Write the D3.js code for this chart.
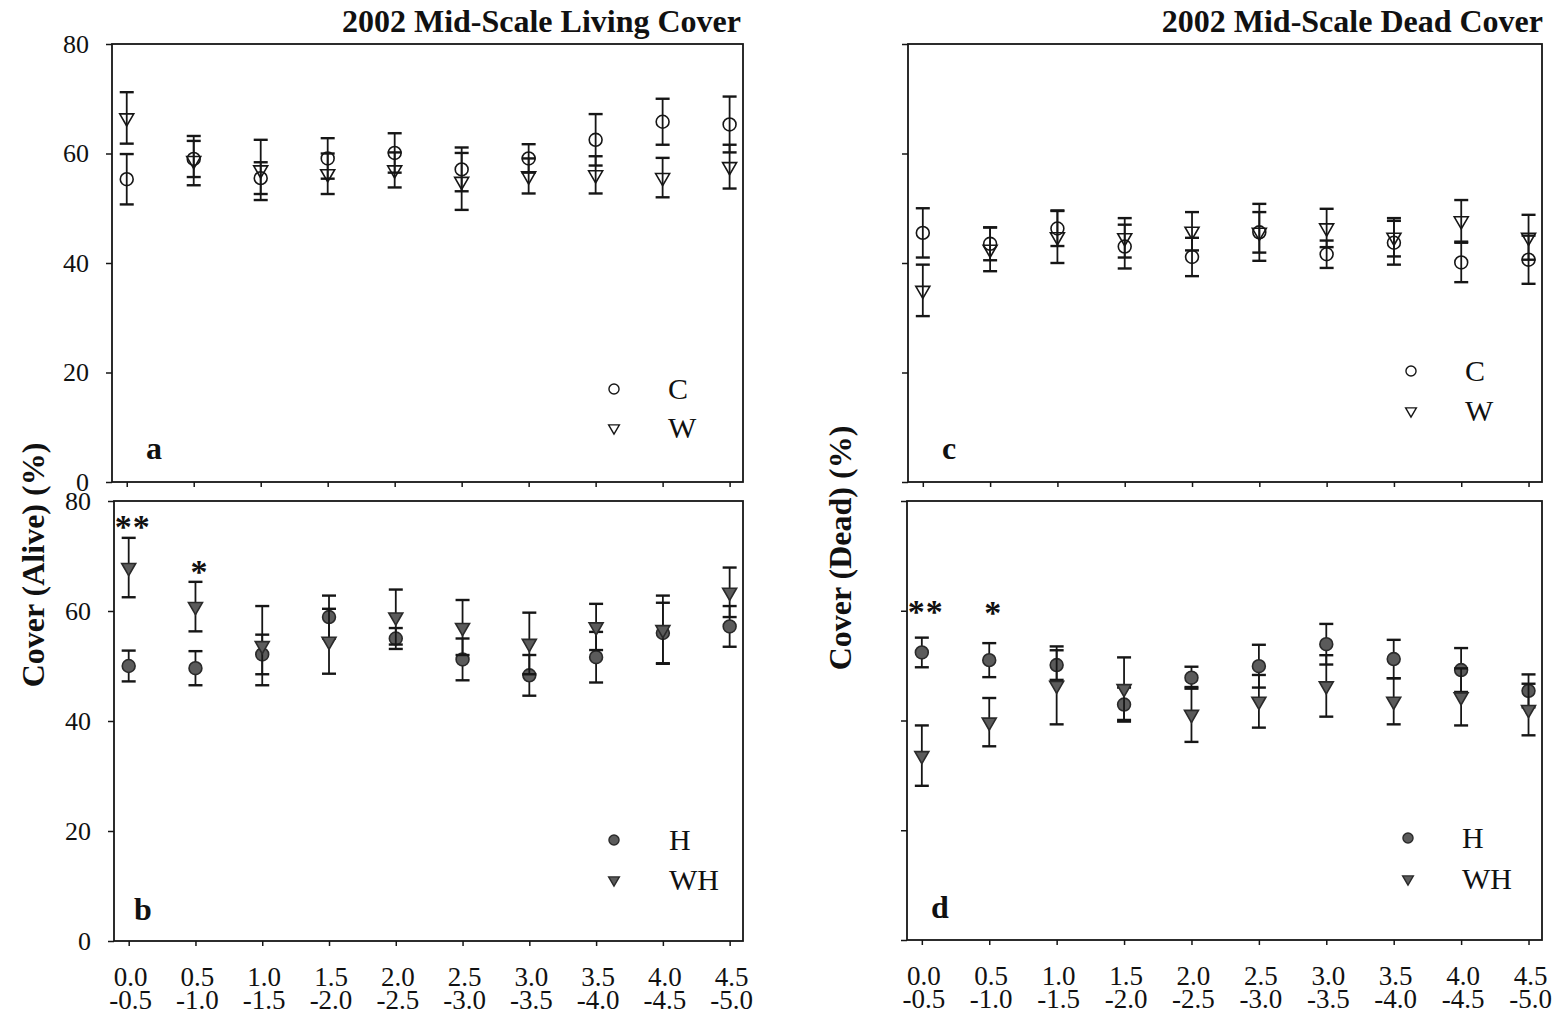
<!DOCTYPE html>
<html>
<head>
<meta charset="utf-8">
<script src="https://cdn.jsdelivr.net/npm/d3@7"></script>
<style>
  html, body { margin: 0; padding: 0; background: #fff; }
  svg { display: block; }
  text { font-family: "Liberation Serif", "Times New Roman", serif; fill: #111; }
</style>
</head>
<body>
<svg id="chart" width="1566" height="1021"></svg>
<script>
// Depth classes (m): start of each interval and the matching end
const depths = [0, 0.5, 1.0, 1.5, 2.0, 2.5, 3.0, 3.5, 4.0, 4.5];
const depthStart = ["0.0", "0.5", "1.0", "1.5", "2.0", "2.5", "3.0", "3.5", "4.0", "4.5"];
const depthEnd = ["-0.5", "-1.0", "-1.5", "-2.0", "-2.5", "-3.0", "-3.5", "-4.0", "-4.5", "-5.0"];
const yTicks = [0, 20, 40, 60, 80];

// Living cover (%) — mean and standard error
const aliveC = [55.3, 59.0, 55.5, 59.1, 60.1, 57.1, 59.1, 62.5, 65.8, 65.3];
const aliveCErr = [4.6, 3.3, 2.9, 3.7, 3.6, 4.0, 2.6, 4.7, 4.2, 5.1];
const aliveW = [66.5, 58.7, 57.0, 56.3, 57.0, 54.9, 55.9, 56.1, 55.6, 57.6];
const aliveWErr = [4.7, 4.5, 5.5, 3.7, 3.2, 5.2, 3.2, 3.4, 3.6, 4.0];
const aliveH = [50.0, 49.6, 52.1, 58.9, 55.0, 51.2, 48.3, 51.6, 56.0, 57.2];
const aliveHErr = [2.8, 3.1, 3.6, 3.9, 1.9, 3.8, 3.7, 4.6, 5.5, 3.7];
const aliveWH = [67.9, 60.8, 53.7, 54.5, 58.9, 57.0, 54.1, 57.1, 56.6, 63.4];
const aliveWHErr = [5.4, 4.5, 7.2, 5.9, 5.0, 5.0, 5.6, 4.2, 6.2, 4.5];

// Dead cover (%) — mean and standard error
const deadC = [45.5, 43.5, 46.3, 43.0, 41.1, 45.6, 41.6, 43.7, 40.1, 40.6];
const deadCErr = [4.5, 3.0, 3.2, 4.0, 3.5, 5.2, 2.5, 4.0, 3.6, 4.4];
const deadW = [35.0, 42.5, 44.8, 44.6, 45.8, 45.6, 46.4, 44.7, 47.7, 44.7];
const deadWErr = [4.7, 4.0, 4.8, 3.6, 3.5, 3.7, 3.5, 3.5, 3.8, 4.1];
const deadH = [52.4, 51.0, 50.1, 42.9, 47.8, 49.9, 53.9, 51.2, 49.2, 45.4];
const deadHErr = [2.7, 3.1, 2.7, 3.1, 2.0, 3.9, 3.7, 3.5, 4.0, 3.0];
const deadWH = [33.6, 39.7, 46.4, 45.8, 41.1, 43.5, 46.3, 43.5, 44.3, 42.0];
const deadWHErr = [5.5, 4.4, 7.1, 5.7, 5.0, 4.8, 5.6, 4.2, 5.2, 4.7];

// Significance marks (H vs WH) and the cover level they are written at
const sigAlive = ["**", "*", "", "", "", "", "", "", "", ""];
const sigAliveAt = [76.3, 68.2, 0, 0, 0, 0, 0, 0, 0, 0];
const sigDead = ["**", "*", "", "", "", "", "", "", "", ""];
const sigDeadAt = [60.8, 60.6, 0, 0, 0, 0, 0, 0, 0, 0];

const svg = d3.select("#chart");
svg.append("rect").attr("width", 1566).attr("height", 1021).attr("fill", "#fff");

const INK = "#161616";
const FILL = "#5b5b5b";

const panels = [
  { letter: "a", x0: 112, x1: 743, y0: 44, y1: 482, yLabels: true, xLabels: false,
    series: [
      { name: "C", mean: aliveC, err: aliveCErr, shape: "circle", filled: false },
      { name: "W", mean: aliveW, err: aliveWErr, shape: "triangle", filled: false }],
    legend: { mx: 614, tx: 668, y: 389, gap: 39 }, letterPos: [146, 459] },
  { letter: "b", x0: 114, x1: 743, y0: 501, y1: 941, yLabels: true, xLabels: true,
    series: [
      { name: "H", mean: aliveH, err: aliveHErr, shape: "circle", filled: true },
      { name: "WH", mean: aliveWH, err: aliveWHErr, shape: "triangle", filled: true }],
    sig: sigAlive, sigAt: sigAliveAt,
    legend: { mx: 614, tx: 669, y: 840, gap: 40 }, letterPos: [134, 920] },
  { letter: "c", x0: 908, x1: 1542, y0: 44, y1: 482, yLabels: false, xLabels: false,
    series: [
      { name: "C", mean: deadC, err: deadCErr, shape: "circle", filled: false },
      { name: "W", mean: deadW, err: deadWErr, shape: "triangle", filled: false }],
    legend: { mx: 1411, tx: 1465, y: 371, gap: 40 }, letterPos: [942, 459] },
  { letter: "d", x0: 907, x1: 1542, y0: 501, y1: 940, yLabels: false, xLabels: true,
    series: [
      { name: "H", mean: deadH, err: deadHErr, shape: "circle", filled: true },
      { name: "WH", mean: deadWH, err: deadWHErr, shape: "triangle", filled: true }],
    sig: sigDead, sigAt: sigDeadAt,
    legend: { mx: 1408, tx: 1462, y: 838, gap: 41 }, letterPos: [931, 918] }
];

function markerPath(shape, big) {
  if (shape === "circle") {
    return d3.symbol().type(d3.symbolCircle).size(big ? 130 : 80)();
  }
  return d3.symbol().type(d3.symbolTriangle).size(big ? 85 : 50)();
}

panels.forEach(p => {
  const x = d3.scaleLinear().domain([-0.11, 4.6]).range([p.x0, p.x1]);
  const y = d3.scaleLinear().domain([0, 80]).range([p.y1, p.y0]);
  const g = svg.append("g");

  // Left axis with outward ticks
  const yAxis = d3.axisLeft(y).tickValues(yTicks).tickSize(6).tickPadding(17)
    .tickFormat(p.yLabels ? d3.format("d") : () => "");
  const ya = g.append("g").attr("transform", `translate(${p.x0},0)`).call(yAxis);
  ya.select(".domain").remove();
  ya.selectAll("line").attr("stroke", INK).attr("stroke-width", 1.5);
  ya.selectAll("text").attr("font-size", 26).attr("fill", INK)
    .attr("font-family", '"Liberation Serif", serif');

  // Bottom axis with outward ticks
  const xAxis = d3.axisBottom(x).tickValues(depths).tickSize(5).tickFormat(() => "");
  const xa = g.append("g").attr("transform", `translate(0,${p.y1})`).call(xAxis);
  xa.select(".domain").remove();
  xa.selectAll("line").attr("stroke", INK).attr("stroke-width", 1.5);

  if (p.xLabels) {
    const lab = g.append("g");
    depths.forEach((d, i) => {
      const t = lab.append("text").attr("x", x(d) + 2).attr("text-anchor", "middle")
        .attr("font-size", 27);
      t.append("tspan").attr("x", x(d) + 2).attr("y", p.y1 + 45).text(depthStart[i]);
      t.append("tspan").attr("x", x(d) + 2).attr("y", p.y1 + 68).text(depthEnd[i]);
    });
  }

  // Frame
  g.append("rect").attr("x", p.x0).attr("y", p.y0)
    .attr("width", p.x1 - p.x0).attr("height", p.y1 - p.y0)
    .attr("fill", "none").attr("stroke", INK).attr("stroke-width", 1.8);

  // Error bars and means
  p.series.forEach(s => {
    const sg = g.append("g");
    depths.forEach((d, i) => {
      const cx = x(d), lo = y(s.mean[i] - s.err[i]), hi = y(s.mean[i] + s.err[i]);
      sg.append("line").attr("x1", cx).attr("x2", cx).attr("y1", lo).attr("y2", hi)
        .attr("stroke", INK).attr("stroke-width", 1.8);
      [lo, hi].forEach(v => sg.append("line").attr("x1", cx - 7).attr("x2", cx + 7)
        .attr("y1", v).attr("y2", v).attr("stroke", INK).attr("stroke-width", 2.4));
    });
    sg.selectAll("path.pt").data(depths).enter().append("path")
      .attr("class", "pt")
      .attr("d", markerPath(s.shape, true))
      .attr("transform", (d, i) => `translate(${x(d)},${y(s.mean[i])})` + (s.shape === "triangle" ? " rotate(180)" : ""))
      .attr("fill", s.filled ? FILL : "none")
      .attr("stroke", s.filled ? "#2a2a2a" : INK)
      .attr("stroke-width", 1.6);
  });

  // Significance asterisks
  if (p.sig) {
    depths.forEach((d, i) => {
      if (!p.sig[i]) return;
      g.append("text").attr("x", x(d) + 4).attr("y", y(p.sigAt[i]) + 17)
        .attr("text-anchor", "middle").attr("font-size", 34).attr("font-weight", "bold")
        .attr("letter-spacing", 1).text(p.sig[i]);
    });
  }

  // Legend
  p.series.forEach((s, k) => {
    const ly = p.legend.y + k * p.legend.gap;
    g.append("path").attr("d", markerPath(s.shape, false))
      .attr("transform", `translate(${p.legend.mx},${ly})` + (s.shape === "triangle" ? " rotate(180)" : ""))
      .attr("fill", s.filled ? FILL : "none")
      .attr("stroke", s.filled ? "#2a2a2a" : INK).attr("stroke-width", 1.4);
    g.append("text").attr("x", p.legend.tx).attr("y", ly + 10)
      .attr("font-size", 30).text(s.name);
  });

  // Panel letter
  g.append("text").attr("x", p.letterPos[0]).attr("y", p.letterPos[1])
    .attr("font-size", 32).attr("font-weight", "bold").text(p.letter);
});

// Titles
svg.append("text").attr("x", 741).attr("y", 32).attr("text-anchor", "end")
  .attr("font-size", 32).attr("font-weight", "bold").text("2002 Mid-Scale Living Cover");
svg.append("text").attr("x", 1543).attr("y", 32).attr("text-anchor", "end")
  .attr("font-size", 32).attr("font-weight", "bold").text("2002 Mid-Scale Dead Cover");

// Y-axis titles
svg.append("text").attr("transform", "translate(44,565) rotate(-90)")
  .attr("text-anchor", "middle").attr("font-size", 32).attr("font-weight", "bold")
  .text("Cover (Alive) (%)");
svg.append("text").attr("transform", "translate(851,548) rotate(-90)")
  .attr("text-anchor", "middle").attr("font-size", 32).attr("font-weight", "bold")
  .text("Cover (Dead) (%)");
</script>
</body>
</html>
